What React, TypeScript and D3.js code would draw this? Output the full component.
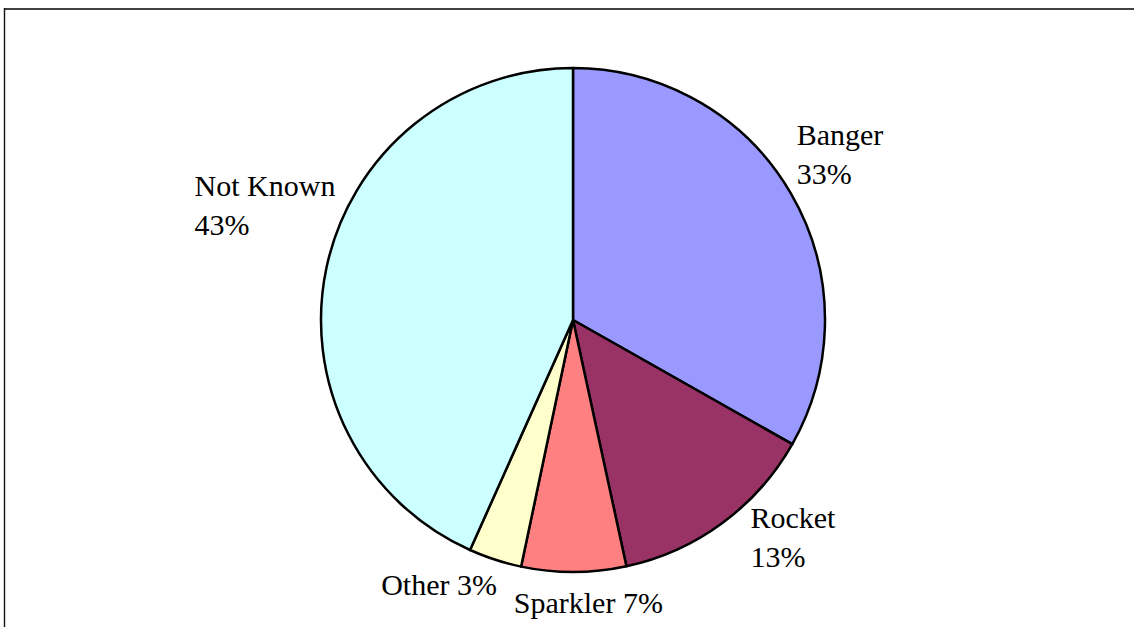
import React, { useEffect, useRef } from 'react';
import * as d3 from 'd3';

// slice names and shares (percent)
const categories = ['Banger', 'Rocket', 'Sparkler', 'Other', 'Not Known'];
const shares = [33.2, 13.4, 6.7, 3.4, 43.3];
const colors = ['#9999FF', '#993366', '#FF8080', '#FFFFCC', '#CCFFFF'];
// label lines: two-line labels split name / percent
const twoLine = [true, true, false, false, true];
// label nudges from the rim point at the slice's mid angle
const labelNudge: [number, number][] = [
  [6, -48],
  [28, 5],
  [-60, 41],
  [-114, 35],
  [-132, -71],
];

const W = 1134;
const H = 627;

export default function App() {
  const ref = useRef<SVGSVGElement>(null);

  useEffect(() => {
    document.body.style.margin = '0';
    if (!ref.current) return;
    const svg = d3.select(ref.current);
    svg.selectAll('*').remove();

    // frame (right and bottom run off the page)
    svg.append('line')
      .attr('x1', 4.5).attr('x2', W + 5).attr('y1', 9).attr('y2', 9)
      .attr('stroke', '#404040').attr('stroke-width', 2.2);
    svg.append('line')
      .attr('x1', 4.5).attr('x2', 4.5).attr('y1', 8).attr('y2', H + 5)
      .attr('stroke', '#111').attr('stroke-width', 1.4);

    const cx = 573;
    const cy = 320;
    const r = 252;

    const data = categories.map((c, i) => ({ name: c, value: shares[i], i }));
    const total = d3.sum(shares);
    const pie = d3.pie<any>().value(d => d.value).sort(null);
    const arcs = pie(data);
    const arc = d3.arc<any>().innerRadius(0).outerRadius(r);

    const g = svg.append('g').attr('transform', `translate(${cx},${cy})`);

    g.selectAll('path')
      .data(arcs)
      .join('path')
      .attr('d', arc)
      .attr('fill', d => colors[d.data.i])
      .attr('stroke', '#000')
      .attr('stroke-width', 2.5)
      .attr('stroke-linejoin', 'round');

    const labels = g.selectAll('text')
      .data(arcs)
      .join('text')
      .style('font-family', "'Liberation Serif', Tinos, 'Times New Roman', 'DejaVu Serif', serif")
      .style('font-size', '30px')
      .attr('fill', '#000')
      .attr('transform', d => {
        const a = (d.startAngle + d.endAngle) / 2;
        const [nx, ny] = labelNudge[d.data.i];
        return `translate(${r * Math.sin(a) + nx},${-r * Math.cos(a) + ny})`;
      });

    labels.each(function (d) {
      const t = d3.select(this);
      const pct = `${Math.round((d.data.value / total) * 100)}%`;
      if (twoLine[d.data.i]) {
        t.append('tspan').attr('x', 0).attr('y', 0).text(d.data.name);
        t.append('tspan').attr('x', 0).attr('y', 39).text(pct);
      } else {
        t.append('tspan').attr('x', 0).attr('y', 0).text(`${d.data.name} ${pct}`);
      }
    });
  }, []);

  return (
    <svg
      ref={ref}
      width={W}
      height={H}
      style={{ display: 'block', background: '#fff' }}
    />
  );
}
